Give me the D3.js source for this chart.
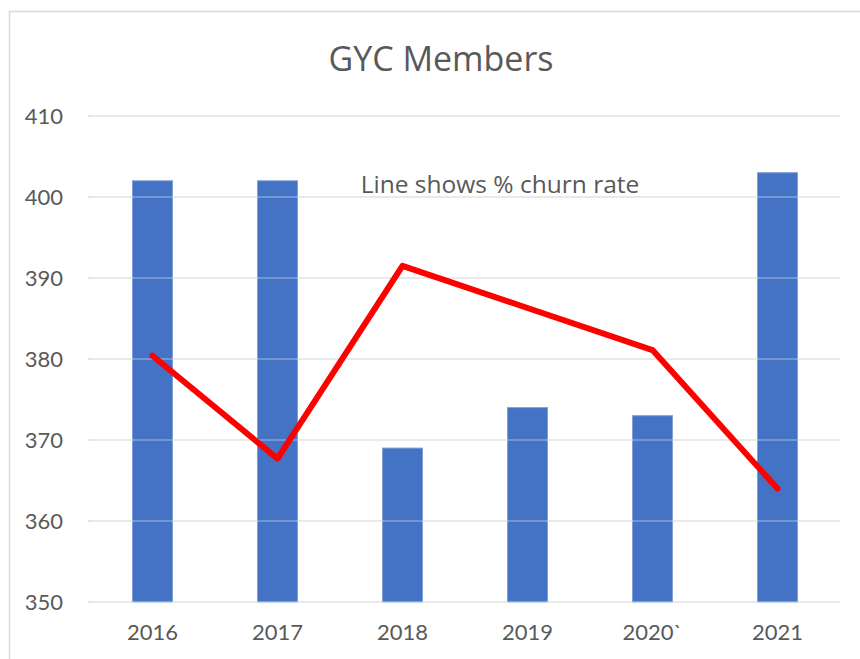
<!DOCTYPE html>
<html>
<head>
<meta charset="utf-8">
<script src="https://cdn.jsdelivr.net/npm/d3@7"></script>
<style>
  body { margin: 0; background: #fff; }
  text { font-family: Lato, "Open Sans", sans-serif; fill: #595959; }
</style>
</head>
<body>
<div id="chart"></div>
<script>
// data
var years = ["2016", "2017", "2018", "2019", "2020`", "2021"];
var members = [402, 402, 369, 374, 373, 403];
var churnLine = [380.4, 367.7, 391.5, 386.3, 381.1, 364.0];
var yTicks = [350, 360, 370, 380, 390, 400, 410];

var width = 860;
var height = 659;
var margin = { top: 116, right: 20, bottom: 57, left: 90 };

var svg = d3
    .select("#chart")
    .append("svg")
    .attr("width", width)
    .attr("height", height);

// chart frame (cropped at right and bottom)
svg.append("rect")
    .attr("x", 9.5)
    .attr("y", 11.5)
    .attr("width", width + 20)
    .attr("height", height + 20)
    .attr("fill", "none")
    .attr("stroke", "#d9d9d9")
    .attr("stroke-width", 1.5);

var x = d3.scaleBand()
    .domain(years)
    .range([margin.left, width - margin.right])
    .paddingInner(0.68)
    .paddingOuter(0.34);

var y = d3.scaleLinear()
    .domain([350, 410])
    .range([height - margin.bottom, margin.top]);

// gridlines
svg.append("g")
    .selectAll("line")
    .data(yTicks)
    .join("line")
    .attr("x1", margin.left - 2)
    .attr("x2", width - margin.right)
    .attr("y1", function (d) { return y(d); })
    .attr("y2", function (d) { return y(d); })
    .attr("stroke", "#d9d9d9")
    .attr("stroke-width", 1.5);

// y axis labels
var yAxis = d3.axisLeft(y).tickValues(yTicks).tickSize(0).tickPadding(0);
svg.append("g")
    .attr("transform", "translate(63,0)")
    .call(yAxis)
    .call(function (g) { g.select(".domain").remove(); })
    .selectAll("text")
    .attr("font-size", 22)
    .style("font-family", "Lato")
    .attr("fill", "#595959");

// bars
svg.append("g")
    .selectAll("rect")
    .data(members)
    .join("rect")
    .attr("x", function (d, i) { return x(years[i]); })
    .attr("y", function (d) { return y(d); })
    .attr("width", x.bandwidth())
    .attr("height", function (d) { return y(350) - y(d); })
    .attr("fill", "#4472c4")
    .attr("stroke", "#7f9fd8")
    .attr("stroke-width", 1);

// gridlines showing faintly over the bars
svg.append("g")
    .selectAll("line")
    .data(yTicks)
    .join("line")
    .attr("x1", margin.left)
    .attr("x2", width - margin.right)
    .attr("y1", function (d) { return y(d); })
    .attr("y2", function (d) { return y(d); })
    .attr("stroke", "#ffffff")
    .attr("stroke-opacity", 0.35)
    .attr("stroke-width", 1.5);

// x axis labels
var xAxis = d3.axisBottom(x).tickSize(0).tickPadding(0);
svg.append("g")
    .attr("transform", "translate(0," + (height - margin.bottom + 22) + ")")
    .call(xAxis)
    .call(function (g) { g.select(".domain").remove(); })
    .selectAll("text")
    .attr("font-size", 22)
    .style("font-family", "Lato")
    .attr("fill", "#595959");

// churn line
var line = d3.line()
    .x(function (d, i) { return x(years[i]) + x.bandwidth() / 2; })
    .y(function (d) { return y(d); });

svg.append("path")
    .datum(churnLine)
    .attr("d", line)
    .attr("fill", "none")
    .attr("stroke", "#ff0000")
    .attr("stroke-width", 6)
    .attr("stroke-linejoin", "round")
    .attr("stroke-linecap", "round");

// title
svg.append("text")
    .attr("x", 441)
    .attr("y", 71)
    .attr("text-anchor", "middle")
    .attr("font-size", 34)
    .style("font-family", "'Open Sans'")
    .text("GYC Members");

// annotation
svg.append("text")
    .attr("x", 500)
    .attr("y", 193)
    .attr("text-anchor", "middle")
    .attr("font-size", 24.5)
    .style("font-family", "'Open Sans'")
    .text("Line shows % churn rate");
</script>
</body>
</html>
